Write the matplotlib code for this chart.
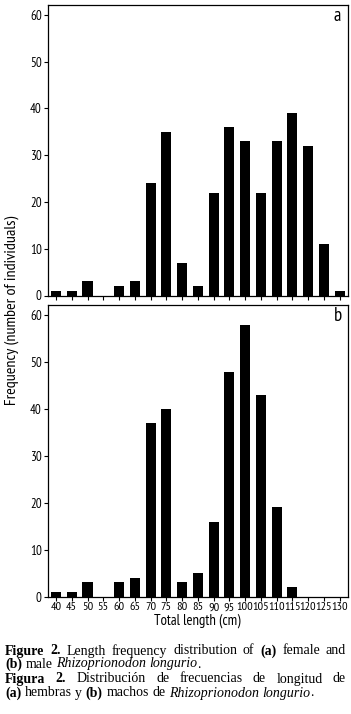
import matplotlib
matplotlib.use("Agg")
import matplotlib.pyplot as plt

lengths = [40, 45, 50, 55, 60, 65, 70, 75, 80, 85, 90, 95, 100, 105, 110, 115, 120, 125, 130]
female = [1, 1, 3, 0, 2, 3, 24, 35, 7, 2, 22, 36, 33, 22, 33, 39, 32, 11, 1]
male = [1, 1, 3, 0, 3, 4, 37, 40, 3, 5, 16, 48, 58, 43, 19, 2, 0, 0, 0]
yticks = [0, 10, 20, 30, 40, 50, 60]

sans = ["PT Sans Narrow", "Liberation Sans"]
serif = ["Liberation Serif", "DejaVu Serif"]

W, H = 351, 714
fig = plt.figure(figsize=(W / 100, H / 100), dpi=100)


def px_axes(x0, y0, x1, y1):
    return fig.add_axes([x0 / W, 1 - y1 / H, (x1 - x0) / W, (y1 - y0) / H])


def panel(ax, vals, letter, show_labels):
    ax.bar(lengths, vals, width=3.2, color="black")
    ax.set_xlim(37.3, 132.5)
    ax.set_ylim(0, 62.2)
    ax.set_yticks(yticks)
    ax.set_xticks(lengths)
    ax.tick_params(direction="out", length=3, width=0.8, pad=1.2)
    ax.tick_params(axis="y", labelsize=9.4)
    ax.tick_params(axis="x", labelsize=8.8)
    for lab in ax.get_yticklabels() + ax.get_xticklabels():
        lab.set_fontfamily(sans)
    if not show_labels:
        ax.set_xticklabels([])
    for s in ax.spines.values():
        s.set_linewidth(0.9)
    ax.text(0.967, 0.962, letter, transform=ax.transAxes, ha="center", va="center",
            fontsize=13.5, family=sans)


ax1 = px_axes(47.5, 4.5, 347.5, 295.5)
panel(ax1, female, "a", False)
ax2 = px_axes(47.5, 305, 347.5, 596.5)
panel(ax2, male, "b", True)
ax2.set_xlabel("Total length (cm)", fontsize=10.5, family=sans, labelpad=0.5)

fig.text(12 / W, 1 - 310 / H, "Frequency (number of individuals)", rotation=90,
         ha="center", va="center", fontsize=11.5, family=sans)

# caption, justified by hand
renderer = fig.canvas.get_renderer()
styles = {"n": {}, "b": {"weight": "bold"}, "i": {"style": "italic"}}
lines = [
    ([("Figure", "b"), ("2.", "b"), ("Length", "n"), ("frequency", "n"), ("distribution", "n"),
      ("of", "n"), ("(a)", "b"), ("female", "n"), ("and", "n")], True),
    ([("(b)", "b"), ("male", "n"), ("Rhizoprionodon", "i"), ("longurio", "i"), (".", "n")], False),
    ([("Figura", "b"), ("2.", "b"), ("Distribución", "n"), ("de", "n"), ("frecuencias", "n"),
      ("de", "n"), ("longitud", "n"), ("de", "n")], True),
    ([("(a)", "b"), ("hembras", "n"), ("y", "n"), ("(b)", "b"), ("machos", "n"), ("de", "n"),
      ("Rhizoprionodon", "i"), ("longurio", "i"), (".", "n")], False),
]
line_y = [651, 664, 679, 693]
left, right = 5, 346
fs = 10
sp = fig.text(0, 0, "a a", fontsize=fs, family=serif)
sp2 = fig.text(0, 0, "aa", fontsize=fs, family=serif)
space = (sp.get_window_extent(renderer).width - sp2.get_window_extent(renderer).width)
sp.remove()
sp2.remove()

for (words, justify), y in zip(lines, line_y):
    objs = []
    for w, st in words:
        t = fig.text(0, 1 - y / H, w, fontsize=fs, family=serif, va="center", **styles[st])
        objs.append(t)
    widths = [t.get_window_extent(renderer).width for t in objs]
    gaps = []
    for k in range(1, len(words)):
        gaps.append(0 if words[k][0] == "." else space)
    if justify:
        extra = (right - left) - sum(widths) - sum(gaps)
        gaps = [g + extra / len(gaps) for g in gaps]
    x = left
    for k, t in enumerate(objs):
        t.set_x(x / W)
        x += widths[k] + (gaps[k] if k < len(gaps) else 0)

fig.savefig("out.png", dpi=100)
